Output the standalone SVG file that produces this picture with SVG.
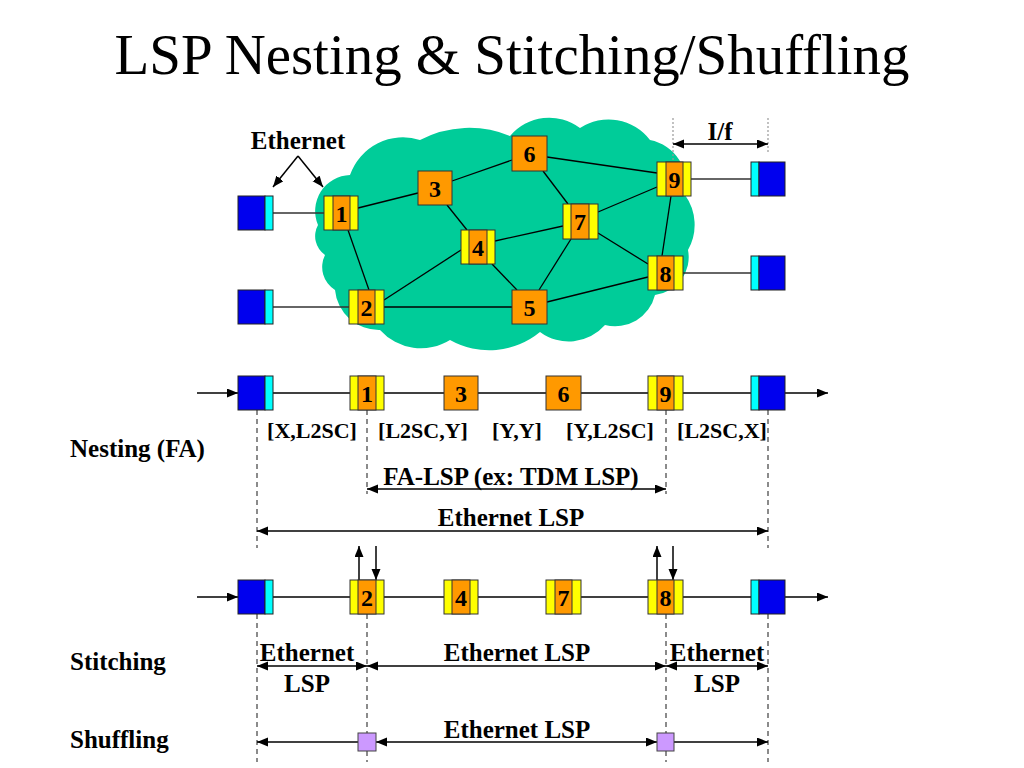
<svg xmlns="http://www.w3.org/2000/svg" width="1024" height="768" viewBox="0 0 1024 768">
<defs>
<style>
.t{font-family:"Liberation Serif","Times New Roman",serif;font-weight:bold;fill:#000}
.title{font-family:"Liberation Serif","Times New Roman",serif;font-size:57px;fill:#000}
.lbl{font-size:25px}
.br{font-size:22px}
.num{font-size:24px;text-anchor:middle}
.ln{stroke:#000;stroke-width:1.3;fill:none}
.hl{stroke:#333;stroke-width:1.3;fill:none}
.ar{stroke:#000;stroke-width:1.5;fill:none;marker-end:url(#ah)}
.dar{stroke:#000;stroke-width:1.5;fill:none;marker-start:url(#ah);marker-end:url(#ah)}
.dash{stroke:#666;stroke-width:1.5;stroke-dasharray:5,4;fill:none}
.dot{stroke:#999;stroke-width:1.2;stroke-dasharray:2,2;fill:none}
.blue{fill:#0000EE;stroke:#222;stroke-width:1}
.cyan{fill:#00FFFF;stroke:#222;stroke-width:1}
.yel{fill:#FFFF00;stroke:#333;stroke-width:1}
.org{fill:#FF9900;stroke:#333;stroke-width:1}
.pur{fill:#CC99FF;stroke:#444;stroke-width:1}
</style>
<marker id="ah" markerUnits="userSpaceOnUse" markerWidth="12" markerHeight="10" refX="11" refY="4.5" orient="auto-start-reverse">
<path d="M0,0 L11,4.5 L0,9 z" fill="#000"/>
</marker>
</defs>
<rect width="1024" height="768" fill="#fff"/>
<text class="title" x="512" y="74" text-anchor="middle" textLength="795" lengthAdjust="spacingAndGlyphs">LSP Nesting &amp; Stitching/Shuffling</text>

<g id="cloud">
<path d="M318,225 A36,36 0 0 1 350,175 A56,56 0 0 1 420,140 A106,106 0 0 1 510,136 A51,51 0 0 1 580,128 A52,52 0 0 1 650,140 A45,45 0 0 1 685,195 A51,51 0 0 1 688,250 A38,38 0 0 1 655,295 A41,41 0 0 1 605,325 A48,48 0 0 1 540,332 A80,80 0 0 1 450,340 A55,55 0 0 1 380,330 A44,44 0 0 1 335,290 A27,27 0 0 1 325,255 A23,23 0 0 1 318,225 Z" fill="#00CC99"/>
</g>

<g id="connectors">
<line class="ln" x1="358" y1="208" x2="418" y2="193"/>
<line class="ln" x1="348" y1="230" x2="369" y2="290"/>
<line class="ln" x1="384" y1="300" x2="461" y2="250"/>
<line class="ln" x1="384" y1="307" x2="512" y2="307"/>
<line class="ln" x1="447" y1="205" x2="467" y2="230"/>
<line class="ln" x1="452" y1="181" x2="512" y2="160"/>
<line class="ln" x1="495" y1="241" x2="563" y2="226"/>
<line class="ln" x1="492" y1="264" x2="517" y2="290"/>
<line class="ln" x1="547" y1="157" x2="657" y2="173"/>
<line class="ln" x1="543" y1="171" x2="568" y2="204"/>
<line class="ln" x1="598" y1="212" x2="657" y2="187"/>
<line class="ln" x1="571" y1="239" x2="539" y2="290"/>
<line class="ln" x1="598" y1="233" x2="648" y2="264"/>
<line class="ln" x1="671" y1="196" x2="662" y2="256"/>
<line class="ln" x1="547" y1="302" x2="648" y2="277"/>
<line class="hl" x1="273" y1="213" x2="324" y2="213"/>
<line class="hl" x1="273" y1="307" x2="349" y2="307"/>
<line class="hl" x1="691" y1="179" x2="751" y2="179"/>
<line class="hl" x1="683" y1="273" x2="751" y2="273"/>
<line class="ar" x1="298" y1="156" x2="273" y2="187"/>
<line class="ar" x1="298" y1="156" x2="323" y2="187"/>
<line class="dot" x1="673" y1="118" x2="673" y2="162"/>
<line class="dot" x1="768" y1="118" x2="768" y2="152"/>
<line class="dar" x1="673" y1="144" x2="768" y2="144"/>

<line class="ar" x1="197" y1="393" x2="238" y2="393"/>
<line class="ln" x1="273" y1="393" x2="751" y2="393"/>
<line class="ar" x1="785" y1="393" x2="828" y2="393"/>
<line class="dash" x1="257" y1="410" x2="257" y2="548"/>
<line class="dash" x1="768" y1="410" x2="768" y2="548"/>
<line class="dash" x1="367" y1="410" x2="367" y2="494"/>
<line class="dash" x1="666" y1="410" x2="666" y2="494"/>
<line class="dar" x1="367" y1="489" x2="666" y2="489"/>
<line class="dar" x1="257" y1="531" x2="768" y2="531"/>

<line class="ar" x1="197" y1="597" x2="238" y2="597"/>
<line class="ln" x1="273" y1="597" x2="751" y2="597"/>
<line class="ar" x1="785" y1="597" x2="828" y2="597"/>
<line class="ar" x1="359" y1="580" x2="359" y2="546"/>
<line class="ar" x1="376" y1="546" x2="376" y2="580"/>
<line class="ar" x1="657" y1="580" x2="657" y2="546"/>
<line class="ar" x1="673" y1="546" x2="673" y2="580"/>
<line class="dash" x1="257" y1="614" x2="257" y2="762"/>
<line class="dash" x1="768" y1="614" x2="768" y2="762"/>
<line class="dash" x1="367" y1="614" x2="367" y2="733"/>
<line class="dash" x1="367" y1="751" x2="367" y2="762"/>
<line class="dash" x1="666" y1="614" x2="666" y2="733"/>
<line class="dash" x1="666" y1="751" x2="666" y2="762"/>
<line class="dar" x1="257" y1="666" x2="367" y2="666"/>
<line class="dar" x1="367" y1="666" x2="666" y2="666"/>
<line class="dar" x1="666" y1="666" x2="768" y2="666"/>

<line class="ar" x1="358" y1="742" x2="257" y2="742"/>
<line class="dar" x1="376" y1="742" x2="657" y2="742"/>
<line class="ar" x1="674" y1="742" x2="768" y2="742"/>
</g>

<g id="host-a"><rect class="blue" x="238" y="196" width="27" height="34"/><rect class="cyan" x="265" y="196" width="8" height="34"/></g>
<g id="host-b"><rect class="blue" x="238" y="290" width="27" height="34"/><rect class="cyan" x="265" y="290" width="8" height="34"/></g>
<g id="host-c"><rect class="cyan" x="751" y="162" width="8" height="34"/><rect class="blue" x="759" y="162" width="26" height="34"/></g>
<g id="host-d"><rect class="cyan" x="751" y="256" width="8" height="34"/><rect class="blue" x="759" y="256" width="26" height="34"/></g>

<g id="n1"><rect class="yel" x="324" y="196" width="34" height="34"/><rect class="org" x="333" y="196" width="17" height="34"/><text class="t num" x="341.5" y="222">1</text></g>
<g id="n2"><rect class="yel" x="349" y="290" width="35" height="34"/><rect class="org" x="358" y="290" width="17" height="34"/><text class="t num" x="366.5" y="316">2</text></g>
<g id="n3"><rect class="org" x="418" y="171" width="34" height="34"/><text class="t num" x="435" y="197">3</text></g>
<g id="n4"><rect class="yel" x="461" y="230" width="34" height="34"/><rect class="org" x="469" y="230" width="18" height="34"/><text class="t num" x="478" y="256">4</text></g>
<g id="n5"><rect class="org" x="512" y="290" width="35" height="34"/><text class="t num" x="529.5" y="316">5</text></g>
<g id="n6"><rect class="org" x="512" y="136" width="35" height="35"/><text class="t num" x="529.5" y="162">6</text></g>
<g id="n7"><rect class="yel" x="563" y="204" width="35" height="35"/><rect class="org" x="571" y="204" width="18" height="35"/><text class="t num" x="580" y="230">7</text></g>
<g id="n8"><rect class="yel" x="648" y="256" width="35" height="34"/><rect class="org" x="657" y="256" width="17" height="34"/><text class="t num" x="665.5" y="282">8</text></g>
<g id="n9"><rect class="yel" x="657" y="162" width="34" height="34"/><rect class="org" x="666" y="162" width="17" height="34"/><text class="t num" x="674.5" y="188">9</text></g>

<g id="r1-host-l"><rect class="blue" x="238" y="376" width="27" height="34"/><rect class="cyan" x="265" y="376" width="8" height="34"/></g>
<g id="r1-n1"><rect class="yel" x="350" y="376" width="34" height="34"/><rect class="org" x="358" y="376" width="18" height="34"/><text class="t num" x="367" y="402">1</text></g>
<g id="r1-n3"><rect class="org" x="444" y="376" width="34" height="34"/><text class="t num" x="461" y="402">3</text></g>
<g id="r1-n6"><rect class="org" x="546" y="376" width="35" height="34"/><text class="t num" x="563.5" y="402">6</text></g>
<g id="r1-n9"><rect class="yel" x="648" y="376" width="35" height="34"/><rect class="org" x="657" y="376" width="17" height="34"/><text class="t num" x="665.5" y="402">9</text></g>
<g id="r1-host-r"><rect class="cyan" x="751" y="376" width="8" height="34"/><rect class="blue" x="759" y="376" width="26" height="34"/></g>

<g id="r2-host-l"><rect class="blue" x="238" y="580" width="27" height="34"/><rect class="cyan" x="265" y="580" width="8" height="34"/></g>
<g id="r2-n2"><rect class="yel" x="350" y="580" width="34" height="34"/><rect class="org" x="358" y="580" width="18" height="34"/><text class="t num" x="367" y="606">2</text></g>
<g id="r2-n4"><rect class="yel" x="444" y="580" width="34" height="34"/><rect class="org" x="452" y="580" width="18" height="34"/><text class="t num" x="461" y="606">4</text></g>
<g id="r2-n7"><rect class="yel" x="546" y="580" width="35" height="34"/><rect class="org" x="555" y="580" width="17" height="34"/><text class="t num" x="563.5" y="606">7</text></g>
<g id="r2-n8"><rect class="yel" x="648" y="580" width="35" height="34"/><rect class="org" x="657" y="580" width="17" height="34"/><text class="t num" x="665.5" y="606">8</text></g>
<g id="r2-host-r"><rect class="cyan" x="751" y="580" width="8" height="34"/><rect class="blue" x="759" y="580" width="26" height="34"/></g>

<g id="sh-a"><rect class="pur" x="358" y="733" width="18" height="18"/></g>
<g id="sh-b"><rect class="pur" x="657" y="733" width="17" height="18"/></g>

<g id="labels">
<text class="t lbl" x="298" y="149" text-anchor="middle">Ethernet</text>
<text class="t lbl" x="720" y="140" text-anchor="middle">I/f</text>
<text class="t br" x="312" y="438" text-anchor="middle">[X,L2SC]</text>
<text class="t br" x="423" y="438" text-anchor="middle">[L2SC,Y]</text>
<text class="t br" x="517" y="438" text-anchor="middle">[Y,Y]</text>
<text class="t br" x="610" y="438" text-anchor="middle">[Y,L2SC]</text>
<text class="t br" x="722" y="438" text-anchor="middle">[L2SC,X]</text>
<text class="t lbl" x="70" y="457">Nesting (FA)</text>
<text class="t lbl" x="511" y="485" text-anchor="middle">FA-LSP (ex: TDM LSP)</text>
<text class="t lbl" x="511" y="526" text-anchor="middle">Ethernet LSP</text>
<text class="t lbl" x="70" y="670">Stitching</text>
<text class="t lbl" x="307" y="661" text-anchor="middle">Ethernet</text>
<text class="t lbl" x="307" y="692" text-anchor="middle">LSP</text>
<text class="t lbl" x="517" y="661" text-anchor="middle">Ethernet LSP</text>
<text class="t lbl" x="717" y="661" text-anchor="middle">Ethernet</text>
<text class="t lbl" x="717" y="692" text-anchor="middle">LSP</text>
<text class="t lbl" x="70" y="748">Shuffling</text>
<text class="t lbl" x="517" y="738" text-anchor="middle">Ethernet LSP</text>
</g>
</svg>
